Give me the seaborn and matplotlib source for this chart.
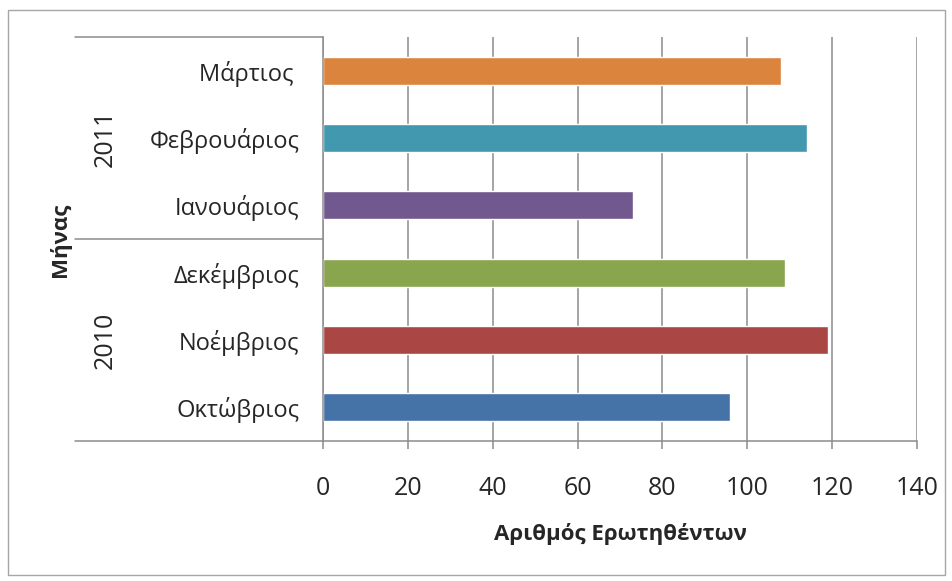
import matplotlib
matplotlib.use("Agg")
import matplotlib.pyplot as plt
import matplotlib.transforms as mtransforms
from matplotlib.patches import Rectangle
import pandas as pd
import seaborn as sns

# data (top to bottom, as drawn)
months = ["Μάρτιος ", "Φεβρουάριος", "Ιανουάριος", "Δεκέμβριος", "Νοέμβριος", "Οκτώβριος"]
counts = [108, 114, 73, 109, 119, 96]
years = ["2011", "2010"]
year_centers = [1, 4]
bar_colors = ["#DB843D", "#4198AF", "#71588F", "#89A54E", "#AA4643", "#4572A7"]
x_ticks = [0, 20, 40, 60, 80, 100, 120, 140]

sns.set_style("white")
plt.rcParams["font.family"] = ["Open Sans", "DejaVu Sans"]

W, H = 953, 581
fig = plt.figure(figsize=(W / 100, H / 100), dpi=100)
left, right, top, bottom = 323, 917, 37, 441
ax = fig.add_axes([left / W, 1 - bottom / H, (right - left) / W, (bottom - top) / H])

df = pd.DataFrame({"month": months, "count": counts})
sns.barplot(data=df, y="month", x="count", hue="month", palette=bar_colors,
            orient="h", width=0.42, ax=ax, legend=False, saturation=1)

grid_col = "#8c8c8c"
ax.set_xlim(0, 140)
ax.set_ylim(5.5, -0.5)
ax.set_xticks(x_ticks)
ax.set_axisbelow(True)
ax.grid(axis="x", color=grid_col, linewidth=1.1)
ax.grid(axis="y", visible=False)
for s in ["top", "right"]:
    ax.spines[s].set_visible(False)
for s in ["left", "bottom"]:
    ax.spines[s].set_color(grid_col)
    ax.spines[s].set_linewidth(1.1)

ax.tick_params(axis="x", direction="out", length=6, width=1.1, color=grid_col,
               labelsize=18, pad=19, bottom=True)
ax.tick_params(axis="y", length=0, labelsize=17, pad=17)
ax.set_ylabel("")
ax.set_xlabel("Αριθμός Ερωτηθέντων", fontsize=16, fontweight="bold", labelpad=16)

# multi-level category axis lines on the left
trans = mtransforms.blended_transform_factory(fig.transFigure, ax.transData)
x0 = 75 / W
for yv in [-0.5, 2.5, 5.5]:
    ax.plot([x0, left / W], [yv, yv], transform=trans, color=grid_col,
            linewidth=1.1, clip_on=False)

for yr, yc in zip(years, year_centers):
    ax.text(105 / W, yc, yr, transform=trans, rotation=90, ha="center",
            va="center", fontsize=18)

fig.text(60 / W, 1 - 240 / H, "Μήνας", rotation=90, ha="center", va="center",
         fontsize=16, fontweight="bold")

# outer chart border
fig.patches.append(Rectangle((8 / W, 1 - 575 / H), 937 / W, 565 / H,
                             transform=fig.transFigure, fill=False,
                             edgecolor="#a6a6a6", linewidth=1))

fig.savefig("out.png", dpi=100)
